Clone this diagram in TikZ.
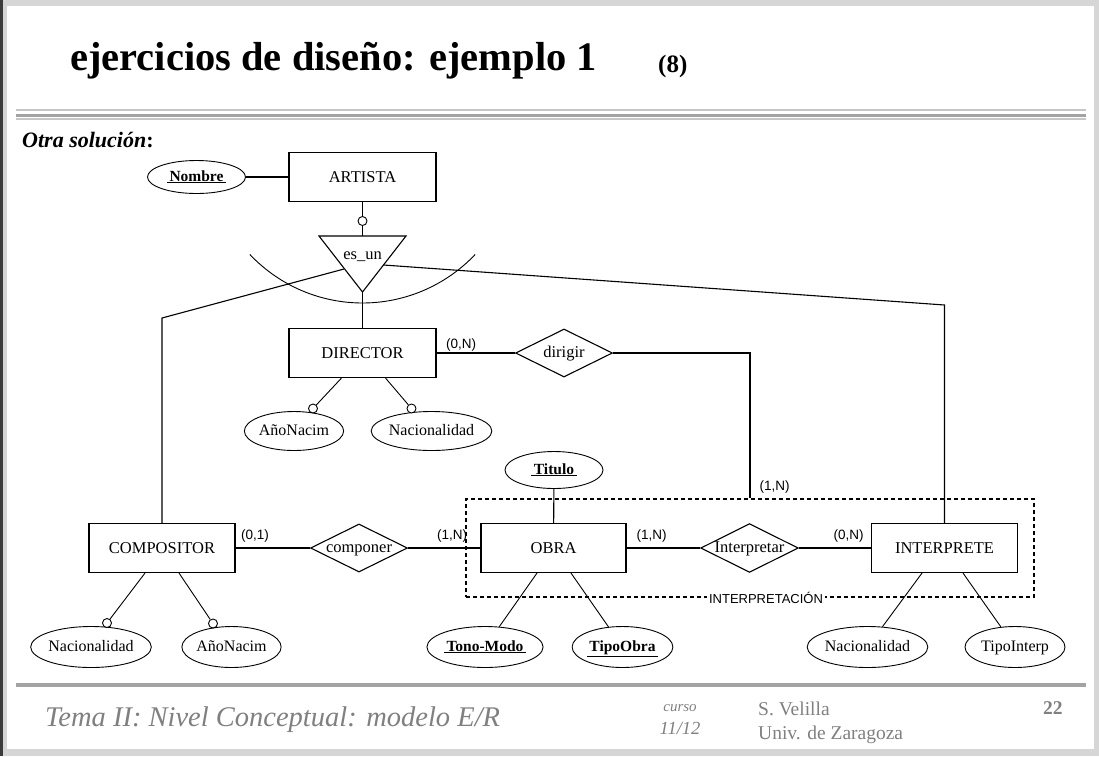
\documentclass[tikz,border=0pt]{standalone}
\usepackage{fontspec}
\setmainfont{Liberation Serif}
\newfontfamily\cardfont{Liberation Sans}
\usetikzlibrary{shapes.geometric}
\definecolor{frame}{HTML}{D6D6D6}
\definecolor{darkframe}{HTML}{3C3C3C}
\definecolor{foot}{HTML}{808080}
\definecolor{rulegray}{HTML}{A3A3A3}
\definecolor{rulelight}{HTML}{C6C6C6}
\newcommand\keyu[1]{\underline{\,#1\,}}
\begin{document}
\begin{tikzpicture}[x=1pt,y=-1pt,
 entity/.style={draw, line width=1.1pt, minimum width=147pt, minimum height=49pt, inner sep=0pt, text height=11pt, text depth=0pt, font=\fontsize{16.5}{18}\selectfont},
 rel/.style={draw, diamond, aspect=2, line width=1.1pt, minimum width=97pt, minimum height=48pt, inner sep=0pt, text height=11pt, text depth=3pt, font=\fontsize{16.5}{18}\selectfont},
 attr/.style={draw, ellipse, line width=0.9pt, inner sep=0pt, minimum height=40pt, text height=11pt, text depth=3pt, font=\fontsize{16}{18}\selectfont},
 keyattr/.style={attr, font=\fontsize{15.5}{18}\selectfont\bfseries},
 opt/.style={draw, circle, line width=0.9pt, minimum size=9pt, inner sep=0pt, fill=white},
 card/.style={font=\cardfont\fontsize{13.5}{15}\selectfont, inner sep=0pt},
 conn/.style={line width=1.1pt},
 thinl/.style={line width=0.9pt}]
\useasboundingbox (0,0) rectangle (1099,756);
% frame
\fill[frame] (0,0) rectangle (1099,756);
\fill[white] (7,6) rectangle (1094,749);
\fill[darkframe] (0,0) rectangle (2.7,756);
% header
\node[anchor=base west, inner sep=0pt, font=\fontsize{40.5}{44}\selectfont\bfseries] (title) at (70,70) {ejercicios de diseño: ejemplo 1};
\node[anchor=base west, inner sep=0pt, font=\fontsize{25}{28}\selectfont\bfseries] (num) at (658,72) {(8)};
\draw[rulelight, line width=2pt] (16,109.5) -- (1086,109.5);
\draw[rulegray, line width=3pt] (16,115) -- (1086,115);
\draw[rulelight, line width=2pt] (16,118.5) -- (1086,118.5);
\node[anchor=base west, inner sep=0pt, font=\fontsize{22}{24}\selectfont\bfseries] (otra) at (22,147) {\textit{Otra solución}:};
% footer
\draw[rulegray, line width=3.5pt] (16,685) -- (1086,685);
\node[anchor=base west, inner sep=0pt, text=foot, font=\fontsize{28.5}{30}\selectfont\itshape] (tema) at (45,726) {Tema II: Nivel Conceptual: modelo E/R};
\node[anchor=base, inner sep=0pt, text=foot, font=\fontsize{15}{17}\selectfont\itshape] (curso) at (680,711) {curso};
\node[anchor=base, inner sep=0pt, text=foot, font=\fontsize{18.5}{20}\selectfont\itshape] (anio) at (680,734) {11/12};
\node[anchor=base west, inner sep=0pt, text=foot, font=\fontsize{19.5}{22}\selectfont] (aut) at (758,715) {S. Velilla};
\node[anchor=base west, inner sep=0pt, text=foot, font=\fontsize{19.5}{22}\selectfont] (univ) at (758,739) {Univ. de Zaragoza};
\node[anchor=base west, inner sep=0pt, text=foot, font=\fontsize{19.5}{22}\selectfont\bfseries] (pag) at (1043,714) {22};
% aggregation box
\node[draw, dashed, dash pattern=on 4pt off 3pt, line width=1.1pt, minimum width=568pt, minimum height=98pt, inner sep=0pt] (agg) at (750,548) {};
\node[fill=white, inner sep=2pt, font=\cardfont\fontsize{13}{15}\selectfont] (aggl) at (766,598) {INTERPRETACIÓN};
% entities
\node[entity] (art) at (362.5,177) {ARTISTA};
\node[entity] (dir) at (362.5,353) {DIRECTOR};
\node[entity, minimum width=146pt] (comp) at (162,548) {COMPOSITOR};
\node[entity, minimum width=145pt] (obra) at (553.5,548) {OBRA};
\node[entity, minimum width=146pt] (int) at (944.5,548) {INTERPRETE};
% relationships
\node[rel] (dirigir) at (564,353) {dirigir};
\node[rel] (componer) at (359,548) {componer};
\node[rel] (interp) at (749.5,548) {Interpretar};
% attributes
\node[keyattr, minimum width=98pt, minimum height=33pt] (nombre) at (196.5,177) {\keyu{Nombre}};
\node[attr, minimum width=96pt, minimum height=39pt] (dano) at (294,431) {AñoNacim};
\node[attr, minimum width=107pt, minimum height=39pt] (dnac) at (431.5,431) {Nacionalidad};
\node[keyattr, minimum width=98pt, minimum height=37pt] (titulo) at (554,470) {\keyu{Titulo}};
\node[attr, minimum width=102pt, minimum height=41pt] (cnac) at (91,647) {Nacionalidad};
\node[attr, minimum width=98pt, minimum height=41pt] (cano) at (231.5,647) {AñoNacim};
\node[keyattr, minimum width=108pt, minimum height=41pt] (tono) at (485,647) {\keyu{Tono-Modo}};
\node[keyattr, minimum width=98pt, minimum height=41pt] (tipoobra) at (622.5,647) {\keyu{TipoObra}};
\node[attr, minimum width=109pt, minimum height=41pt] (inac) at (867.5,647) {Nacionalidad};
\node[attr, minimum width=100pt, minimum height=41pt] (tipoint) at (1015,647) {TipoInterp};
% es_un triangle
\coordinate (tA) at (319,236);
\coordinate (tB) at (406,236);
\coordinate (tC) at (362.5,292);
\coordinate (tTop) at (362.5,236);
\coordinate (tL) at (344,269);
\coordinate (tR) at (383.5,265);
\coordinate (kL) at (162,318);
\coordinate (kR) at (944.5,305);
\draw[conn] (tA) -- (tB) -- (tC) -- cycle;
\node[font=\fontsize{16.5}{18}\selectfont, inner sep=0pt, text height=11pt, text depth=3pt] (isa) at (362.5,255) {es\_un};
\draw[thinl] plot[domain=43.4:136.6, samples=60, smooth] ({362.5+155*cos(\x)},{148+155*sin(\x)});
% optional circles
\node[opt] (o1) at (362.5,221) {};
\node[opt] (o2) at (313,408.5) {};
\node[opt] (o3) at (411.5,408.5) {};
\node[opt] (o4) at (107,623) {};
\node[opt] (o5) at (213,623.5) {};
% connectors
\draw[conn] (nombre) -- (art);
\draw[conn] (art) -- (o1);
\draw[conn] (o1) -- (tTop);
\draw[conn] (tC) -- (dir.north);
\draw[conn] (tL) -- (kL) -- (comp.north);
\draw[conn] (tR) -- (kR) -- (int.north);
\draw[conn] (dir) -- (dirigir);
\coordinate (dk) at (750,353);
\draw[conn] (dirigir) -- (dk) -- (agg.north);
\draw[conn] (comp) -- (componer);
\draw[conn] (componer) -- (obra);
\draw[conn] (obra) -- (interp);
\draw[conn] (interp) -- (int);
\draw[conn] (titulo) -- (obra);
\draw[thinl] ([xshift=-21pt]dir.south) -- (o2);
\draw[thinl] ([xshift=23pt]dir.south) -- (o3);
\draw[thinl] ([xshift=-17pt]comp.south) -- (o4);
\draw[thinl] ([xshift=17pt]comp.south) -- (o5);
\draw[thinl] ([xshift=-16.5pt]obra.south) -- (tono);
\draw[thinl] ([xshift=17.5pt]obra.south) -- (tipoobra);
\draw[thinl] ([xshift=-22.5pt]int.south) -- (inac);
\draw[thinl] ([xshift=18.5pt]int.south) -- (tipoint);
% cardinalities
\node[card] (c1) at (461,345) {(0,N)};
\node[card] (c2) at (255,536) {(0,1)};
\node[card] (c3) at (452,536) {(1,N)};
\node[card] (c4) at (651.5,536) {(1,N)};
\node[card] (c5) at (848.5,536) {(0,N)};
\node[card] (c6) at (774.5,487) {(1,N)};
\end{tikzpicture}
\end{document}
